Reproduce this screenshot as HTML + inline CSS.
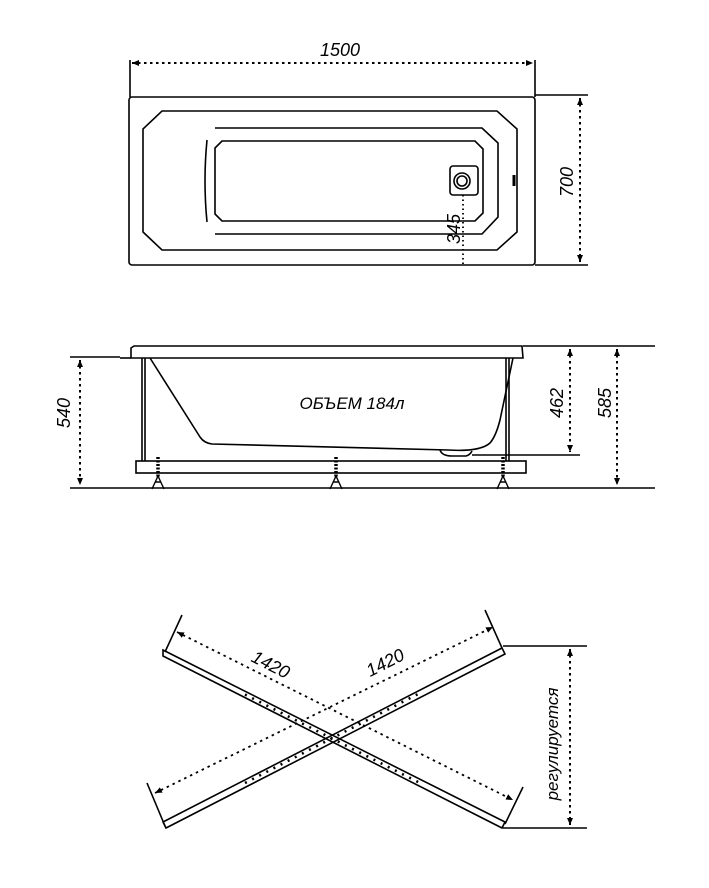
<!DOCTYPE html>
<html><head><meta charset="utf-8"><style>
html,body{margin:0;padding:0;background:#fff;}
svg{display:block;}
text{font-family:"Liberation Sans","DejaVu Sans",sans-serif;font-style:italic;fill:#000;}
</style></head><body>
<svg width="709" height="888" viewBox="0 0 709 888" xmlns="http://www.w3.org/2000/svg">
<defs>
<marker id="a" markerWidth="8" markerHeight="8" refX="7" refY="4" orient="auto-start-reverse" markerUnits="userSpaceOnUse"><path d="M0,1 L7,4 L0,7 Z" fill="#000"/></marker>
</defs>
<g fill="none" stroke="#000" stroke-width="1.6">
<!-- TOP VIEW -->
<line x1="130" y1="60" x2="130" y2="97"/>
<line x1="535" y1="60" x2="535" y2="97"/>
<line x1="132" y1="63" x2="533" y2="63" stroke-dasharray="2.5,3.5" stroke-width="2" marker-start="url(#a)" marker-end="url(#a)"/>
<rect x="129" y="97" width="406" height="168" rx="3"/>
<line x1="535" y1="95" x2="588" y2="95"/>
<line x1="535" y1="265" x2="588" y2="265"/>
<line x1="580" y1="98" x2="580" y2="262" stroke-dasharray="2.5,3.5" stroke-width="2" marker-start="url(#a)" marker-end="url(#a)"/>
<path d="M162,111 L497,111 L517,129 L517,232 L497,250 L162,250 L143,232 L143,129 Z"/>
<path d="M215,128 L482,128 L498,143 L498,217 L482,234 L215,234"/>
<path d="M207,140 Q203,181 207,222"/>
<path d="M222,141 L475,141 L483,149 L483,213 L475,221 L222,221 L215,214 L215,148 Z"/>
<rect x="450" y="166" width="28" height="29" rx="3"/>
<circle cx="462" cy="181" r="8"/>
<circle cx="462" cy="181" r="5"/>
<line x1="463" y1="195" x2="463" y2="265" stroke-dasharray="1.5,3" stroke-width="1.8"/>
<line x1="514" y1="175" x2="514" y2="186" stroke-width="3"/>
<!-- SIDE VIEW -->
<path d="M131,358 L131,348 L134,346 L522,346 L523,358 Z"/>
<line x1="120" y1="358" x2="131" y2="358"/>
<line x1="70" y1="357" x2="120" y2="357"/>
<line x1="523" y1="346" x2="655" y2="346"/>
<line x1="142" y1="358" x2="142" y2="461"/><line x1="145" y1="358" x2="145" y2="461"/>
<line x1="506" y1="358" x2="506" y2="461"/><line x1="509" y1="358" x2="509" y2="461"/>
<path d="M150,358 L200,437 Q204,443 212,444 L448,450 Q480,452 490,443 Q496,436 500,420 L513,358"/>
<path d="M440,450 Q442,456 452,456 L466,456 Q470,455 472,451"/>
<line x1="472" y1="455" x2="580" y2="455"/>
<rect x="136" y="461" width="390" height="12"/>
<line x1="70" y1="488" x2="655" y2="488"/>
<line x1="570" y1="349" x2="570" y2="452" stroke-dasharray="2.5,3.5" stroke-width="2" marker-start="url(#a)" marker-end="url(#a)"/>
<line x1="617" y1="349" x2="617" y2="485" stroke-dasharray="2.5,3.5" stroke-width="2" marker-start="url(#a)" marker-end="url(#a)"/>
<line x1="80" y1="360" x2="80" y2="485" stroke-dasharray="2.5,3.5" stroke-width="2" marker-start="url(#a)" marker-end="url(#a)"/>
<g stroke-width="1.4">
<line x1="158" y1="457" x2="158" y2="478" stroke-dasharray="2,1.5" stroke-width="3.5"/>
<path d="M158,476 L152,489 M158,476 L164,489 M155,482 L161,482"/>
<line x1="336" y1="457" x2="336" y2="478" stroke-dasharray="2,1.5" stroke-width="3.5"/>
<path d="M336,476 L330,489 M336,476 L342,489 M333,482 L339,482"/>
<line x1="503" y1="457" x2="503" y2="478" stroke-dasharray="2,1.5" stroke-width="3.5"/>
<path d="M503,476 L497,489 M503,476 L509,489 M500,482 L506,482"/>
</g>
<!-- BOTTOM X -->
<path d="M163,650 L505,822 L502,828 L163,656 Z"/>
<path d="M163,822 L502,648 L505,654 L166,828 Z"/>
<line x1="182" y1="615" x2="165" y2="652"/>
<line x1="485" y1="610" x2="502" y2="648"/>
<line x1="147" y1="783" x2="165" y2="826"/>
<line x1="523" y1="787" x2="505" y2="824"/>
<line x1="177" y1="632" x2="513" y2="800" stroke-dasharray="2.5,4" stroke-width="1.8" marker-start="url(#a)" marker-end="url(#a)"/>
<line x1="155" y1="793" x2="493" y2="627" stroke-dasharray="2.5,4" stroke-width="1.8" marker-start="url(#a)" marker-end="url(#a)"/>
<line x1="245" y1="694.5" x2="420" y2="783" stroke-dasharray="2,6" stroke-width="2.6"/>
<line x1="245" y1="783" x2="420" y2="693" stroke-dasharray="2,6" stroke-width="2.6"/>
<line x1="503" y1="646" x2="587" y2="646"/>
<line x1="503" y1="828" x2="587" y2="828"/>
<line x1="570" y1="649" x2="570" y2="825" stroke-dasharray="2.5,3.5" stroke-width="2" marker-start="url(#a)" marker-end="url(#a)"/>
</g>
<g font-size="18">
<text x="340" y="56" text-anchor="middle">1500</text>
<text transform="translate(573,182) rotate(-90)" text-anchor="middle">700</text>
<text transform="translate(460,229) rotate(-90)" text-anchor="middle" font-style="normal">345</text>
<text x="352" y="409" text-anchor="middle" font-size="17">ОБЪЕМ 184л</text>
<text transform="translate(563,403) rotate(-90)" text-anchor="middle">462</text>
<text transform="translate(611,403) rotate(-90)" text-anchor="middle">585</text>
<text transform="translate(70,413) rotate(-90)" text-anchor="middle">540</text>
<text transform="translate(268,670) rotate(27)" text-anchor="middle">1420</text>
<text transform="translate(388,668) rotate(-27)" text-anchor="middle">1420</text>
<text transform="translate(558,744) rotate(-90)" text-anchor="middle" font-size="17">регулируется</text>
</g>
</svg>
</body></html>
